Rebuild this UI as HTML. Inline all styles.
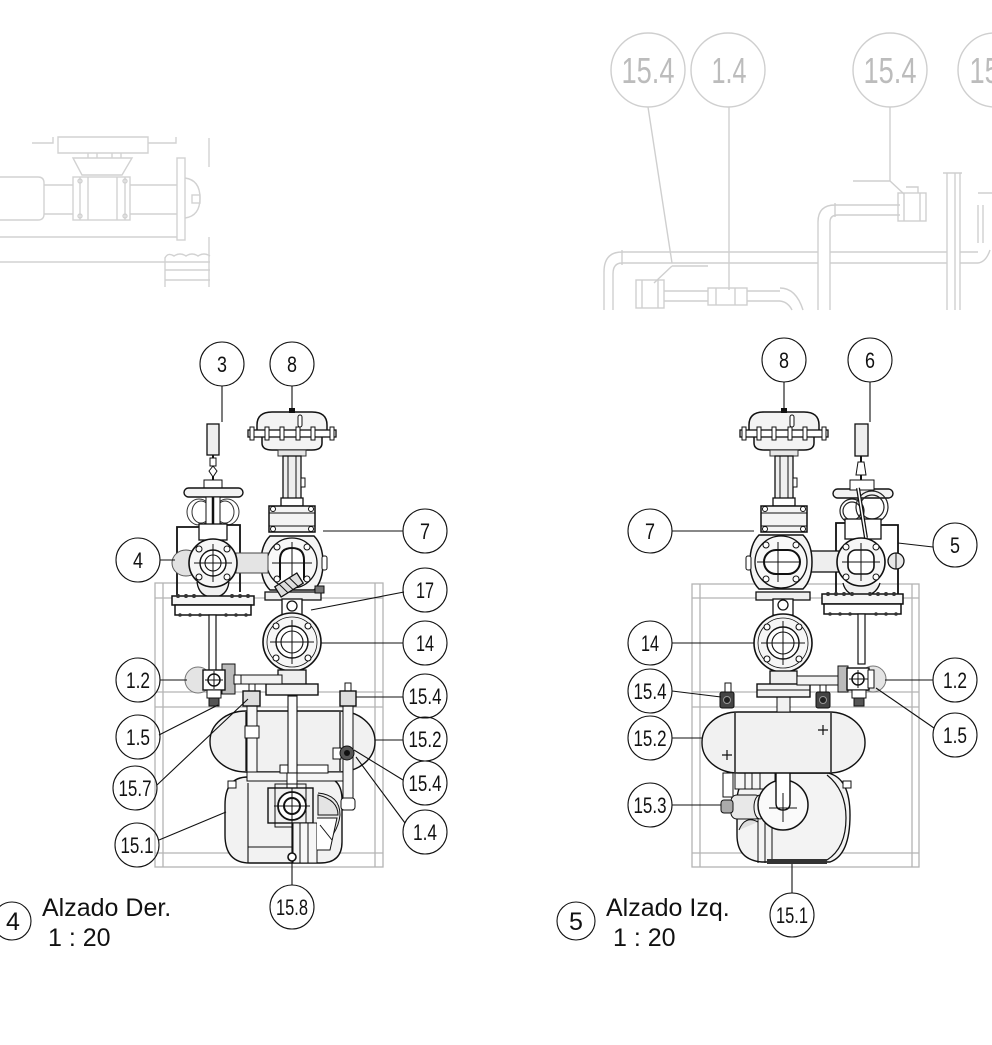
<!DOCTYPE html>
<html><head><meta charset="utf-8">
<style>
html,body{margin:0;padding:0;background:#fff;}
svg{display:block;}
.bt{font-family:"Liberation Sans Narrow","Liberation Sans",sans-serif;font-size:22px;fill:#111;text-anchor:middle}
.gt{font-family:"Liberation Sans Narrow","Liberation Sans",sans-serif;font-size:36px;fill:#bcbcbc;text-anchor:middle}
.title{font-family:"Liberation Sans",sans-serif;font-size:25px;fill:#111}
</style></head><body>
<svg width="992" height="1045" viewBox="0 0 992 1045" xmlns="http://www.w3.org/2000/svg">
<defs>
 <g id="v14">
  <circle r="29" fill="#f6f6f6" stroke="#111" stroke-width="1.6"/>
  <circle r="25" fill="none" stroke="#111" stroke-width="0.8"/>
  <circle r="16" fill="#fff" stroke="#111" stroke-width="1.4"/>
  <circle r="11" fill="none" stroke="#111" stroke-width="1.1"/>
  <path d="M-22,0H22M0,-22V22" stroke="#111" stroke-width="1"/>
  <g fill="#fff" stroke="#111" stroke-width="1.1"><circle cx="-16" cy="-16" r="3"/><circle cx="16" cy="-16" r="3"/><circle cx="-16" cy="16" r="3"/><circle cx="16" cy="16" r="3"/></g>
 </g>
 <g id="act">
  <path d="M-35,20 V13 Q-35,0 -20,0 H20 Q35,0 35,13 V20 Z" fill="#f3f3f3" stroke="#111" stroke-width="1.5"/>
  <path d="M-30,25 V31 Q-30,38 -20,38 H20 Q30,38 30,31 V25" fill="#f3f3f3" stroke="#111" stroke-width="1.5"/>
  <rect x="-44" y="18" width="88" height="7" fill="#fff" stroke="#111" stroke-width="1.3"/>
  <g fill="#fff" stroke="#111" stroke-width="1">
   <rect x="-42" y="15" width="4" height="13"/><rect x="-27" y="15" width="4" height="13"/><rect x="-12" y="15" width="4" height="13"/><rect x="4" y="15" width="4" height="13"/><rect x="19" y="15" width="4" height="13"/><rect x="38" y="15" width="4" height="13"/>
  </g>
  <rect x="-3" y="-4" width="6" height="5" fill="#111"/>
  <rect x="6" y="3" width="4" height="12" rx="2" fill="#fff" stroke="#111"/>
  <rect x="-14" y="38" width="28" height="6" fill="#e6e6e6" stroke="#333"/>
  <rect x="-9" y="44" width="18" height="44" fill="#eee" stroke="#111" stroke-width="1.3"/>
  <path d="M-4,44V88M4,44V88" stroke="#111"/>
  <rect x="9" y="66" width="4" height="9" fill="#fff" stroke="#111"/>
  <rect x="-11" y="86" width="22" height="8" fill="#fff" stroke="#111" stroke-width="1.3"/>
  <rect x="-23" y="94" width="46" height="26" fill="#f3f3f3" stroke="#111" stroke-width="1.5"/>
  <path d="M-23,101H23M-23,114H23" stroke="#111"/>
  <g fill="#fff" stroke="#111"><circle cx="-19" cy="97" r="2.5"/><circle cx="19" cy="97" r="2.5"/><circle cx="-19" cy="117" r="2.5"/><circle cx="19" cy="117" r="2.5"/></g>
 </g>
</defs>

<!-- ============ GHOST TOP LEFT ============ -->
<g fill="none" stroke="#d2d2d2" stroke-width="1.4">
 <path d="M32,143 H53 V137 M58,137 H148 V153 H58 Z M148,143 H176 V137"/>
 <path d="M73,158 H132 L122,175 H82 Z"/>
 <path d="M88,153 V158 M97,153 V158 M112,153 V158 M121,153 V158"/>
 <path d="M0,177 H38 Q44,177 44,183 V214 Q44,220 38,220 H0"/>
 <path d="M44,185 H73 M44,214 H73"/>
 <rect x="73" y="177" width="57" height="43"/>
 <path d="M80,177 V220 M88,177 V220 M117,177 V220 M125,177 V220"/>
 <circle cx="80" cy="181" r="2"/><circle cx="125" cy="181" r="2"/><circle cx="80" cy="216" r="2"/><circle cx="125" cy="216" r="2"/>
 <path d="M130,185 H177 M130,214 H177"/>
 <rect x="177" y="158" width="8" height="82"/>
 <path d="M185,178 Q200,180 200,198 Q200,216 185,218"/>
 <rect x="192" y="195" width="8" height="8"/>
 <path d="M0,237 H177 M0,262 H210"/>
 <path d="M165,287 V258 Q168,252 174,256 Q180,252 186,256 Q192,252 198,256 Q204,252 210,256 M165,270 H210 M165,280 H210"/>
 <path d="M209,138 V167 M209,237 V287"/>
</g>

<!-- ============ GHOST TOP RIGHT ============ -->
<g fill="none" stroke="#cfcfcf" stroke-width="1.4">
 <circle cx="648" cy="70" r="37"/>
 <circle cx="728" cy="70" r="37"/>
 <circle cx="890" cy="70" r="37"/>
 <circle cx="995" cy="70" r="37"/>
 <path d="M648,107 L672,263 M672,266 H708 M672,266 L654,283"/>
 <path d="M729,107 V290"/>
 <path d="M890,107 V181 M853,181 H890 L904,194"/>
 <path d="M622,252 H818 M830,252 H947 M960,252 H978 M622,263 H818 M830,263 H947 M960,263 H978"/>
 <path d="M604,310 V272 Q604,252 622,252 M613,310 V274 Q613,263 622,263 M622,250 V265"/>
 <path d="M818,310 V222 Q818,205 835,205 H900 M830,310 V222 Q830,215 838,215 H900 M835,203 V217"/>
 <rect x="898" y="193" width="28" height="28"/>
 <path d="M904,193 V221 M920,193 V221 M906,187 H918 V193"/>
 <path d="M947,310 V173 M955,310 V173 M960,310 V173 M943,173 H962"/>
 <path d="M978,263 Q986,262 990,250 M978,193 H992 M978,205 V243 M983,205 V243"/>
 <rect x="636" y="280" width="28" height="28"/>
 <path d="M642,280 V308 M658,280 V308"/>
 <path d="M664,291 H708 M664,301 H708 M747,291 H780 M747,301 H780"/>
 <rect x="708" y="288" width="39" height="17"/>
 <path d="M716,288 V305 M735,288 V305"/>
 <path d="M780,288 Q796,288 803,310 M780,301 Q788,302 792,310"/>
</g>
<g class="gt">
 <text x="648" y="83" textLength="53" lengthAdjust="spacingAndGlyphs">15.4</text>
 <text x="729" y="83" textLength="35" lengthAdjust="spacingAndGlyphs">1.4</text>
 <text x="890" y="83" textLength="53" lengthAdjust="spacingAndGlyphs">15.4</text>
 <text x="996" y="83" textLength="53" lengthAdjust="spacingAndGlyphs">15.4</text>
</g>

<!-- ============ LEFT VIEW (Alzado Der.) ============ -->
<g fill="none" stroke="#b4b4b4" stroke-width="1.3">
 <rect x="155" y="583" width="228" height="284"/>
 <path d="M163,583 V867 M375,583 V867 M155,598 H383 M155,692 H383 M155,707 H383 M155,853 H383"/>
</g>

<!-- lower tank 15.1 -->
<path d="M248,777 H322 Q342,777 342,800 V842 Q342,863 320,863 H250 Q225,863 225,835 V805 Q225,777 248,777 Z" fill="#f2f2f2" stroke="#111" stroke-width="1.4"/>
<path d="M248,783 V863 M248,847 H300" stroke="#111" stroke-width="1.1"/>
<path d="M318,793 Q340,795 340,815 Q338,835 318,850" fill="#e9e9e9" stroke="#111"/>
<rect x="228" y="781" width="8" height="7" fill="#fff" stroke="#111"/>
<!-- tank 15.2 -->
<rect x="210" y="711" width="165" height="61" rx="36" ry="30" fill="#f1f1f1" stroke="#111" stroke-width="1.4"/>
<path d="M246,712 V771 M340,712 V771" stroke="#111" stroke-width="1.3"/>
<!-- pipes around tank -->
<rect x="247" y="705" width="10" height="73" fill="#f7f7f7" stroke="#111"/>
<rect x="245" y="726" width="14" height="12" fill="#fff" stroke="#111"/>
<rect x="249" y="684" width="6" height="8" fill="#fff" stroke="#111"/>
<rect x="243" y="691" width="17" height="15" fill="#ddd" stroke="#111" stroke-width="1.4"/>
<rect x="247" y="772" width="101" height="9" fill="#f5f5f5" stroke="#111"/>
<rect x="280" y="765" width="48" height="8" fill="#fff" stroke="#111"/>
<rect x="288" y="696" width="9" height="77" fill="#fbfbfb" stroke="#111" stroke-width="1.1"/>
<rect x="343" y="705" width="10" height="105" fill="#f7f7f7" stroke="#111"/>
<rect x="345" y="683" width="6" height="9" fill="#fff" stroke="#111"/>
<rect x="340" y="691" width="16" height="15" fill="#ddd" stroke="#111" stroke-width="1.4"/>
<rect x="341" y="798" width="14" height="12" rx="3" fill="#fff" stroke="#111"/>
<rect x="333" y="748" width="8" height="11" fill="#fff" stroke="#111"/>
<circle cx="347" cy="753" r="7" fill="#555" stroke="#111"/>
<circle cx="347" cy="753" r="3" fill="#111"/>
<!-- lower valve in 15.1 -->
<path d="M318,795 Q338,800 338,815 H318 Z" fill="#e4e4e4" stroke="#111"/>
<rect x="287" y="773" width="10" height="16" fill="#fff" stroke="#111"/>
<rect x="268" y="788" width="45" height="35" fill="#f0f0f0" stroke="#111" stroke-width="1.4"/>
<rect x="275" y="784" width="31" height="43" fill="none" stroke="#111"/>
<circle cx="292" cy="806" r="14" fill="#fff" stroke="#111" stroke-width="1.8"/>
<circle cx="292" cy="806" r="8" fill="none" stroke="#111" stroke-width="2"/>
<path d="M274,806 H310 M292,788 V824" stroke="#111"/>
<rect x="293" y="823" width="24" height="40" fill="#f6f6f6" stroke="#111"/>
<path d="M300,823 V863 M308,823 V863" stroke="#111"/>
<path d="M317,818 H337 L330,850 H317" fill="#fff" stroke="#111"/>
<path d="M320,825 L332,840" stroke="#111"/>
<line x1="292" y1="824" x2="292" y2="860" stroke="#111" stroke-width="1.2"/>
<circle cx="292" cy="857" r="4" fill="#fff" stroke="#111" stroke-width="1.6"/>

<!-- actuator + bonnet 8/7 -->
<use href="#act" x="292" y="412"/>
<!-- valve 7 body -->
<g transform="translate(292,563)">
 <path d="M-22,-27 Q-31,-18 -31,0 Q-31,18 -22,27 H22 Q31,18 31,0 Q31,-18 22,-27 Z" fill="#f4f4f4" stroke="#111" stroke-width="1.5"/>
 <circle r="25" fill="#f8f8f8" stroke="#111" stroke-width="1.3"/>
 <path d="M-12,17 V-3 Q-12,-15 0,-15 Q12,-15 12,-3 V17" fill="#fff" stroke="#111" stroke-width="2"/>
 <path d="M-20,0 H20 M0,-21 V21" stroke="#111"/>
 <g fill="#fff" stroke="#111"><circle cx="-15" cy="-16" r="3"/><circle cx="15" cy="-16" r="3"/><circle cx="-15" cy="16" r="3"/><circle cx="15" cy="16" r="3"/></g>
 <rect x="30" y="-7" width="5" height="14" rx="2" fill="#fff" stroke="#111"/>
</g>
<!-- 17 strainer -->
<rect x="265" y="592" width="56" height="8" fill="#eee" stroke="#111" stroke-width="1.3"/>
<rect x="315" y="586" width="9" height="7" fill="#777" stroke="#111"/>
<g transform="translate(289,585) rotate(-32)">
 <rect x="-13" y="-6" width="26" height="12" fill="#ddd" stroke="#111" stroke-width="1.3"/>
 <path d="M-8,-6 L-5,6 M-2,-6 L1,6 M4,-6 L7,6" stroke="#111"/>
</g>
<rect x="282" y="599" width="20" height="16" fill="#fff" stroke="#111" stroke-width="1.3"/>
<circle cx="292" cy="606" r="5" fill="#fff" stroke="#111" stroke-width="1.3"/>
<!-- valve 14 -->
<use href="#v14" x="292" y="642"/>
<rect x="278" y="670" width="28" height="15" fill="#eee" stroke="#111" stroke-width="1.3"/>
<rect x="266" y="684" width="52" height="11" fill="#f2f2f2" stroke="#111" stroke-width="1.4"/>

<!-- left valve (3/4) -->
<rect x="207" y="424" width="12" height="31" fill="#eee" stroke="#111" stroke-width="1.3"/>
<line x1="213" y1="455" x2="213" y2="482" stroke="#111" stroke-width="2"/>
<rect x="210" y="458" width="6" height="8" fill="#fff" stroke="#111"/>
<path d="M209,471 L213,466 L217,471 L213,477 Z" fill="#fff" stroke="#111"/>
<rect x="204" y="480" width="18" height="9" fill="#fff" stroke="#111"/>
<rect x="184" y="488" width="59" height="9" rx="4.5" fill="#f3f3f3" stroke="#111" stroke-width="1.4"/>
<g fill="none" stroke="#333" stroke-width="1">
 <ellipse cx="199" cy="512" rx="12" ry="13"/><ellipse cx="201" cy="512" rx="9" ry="11"/>
 <ellipse cx="227" cy="512" rx="12" ry="13"/><ellipse cx="225" cy="512" rx="9" ry="11"/>
</g>
<rect x="206" y="497" width="14" height="30" fill="#fff" stroke="#111"/>
<line x1="213" y1="497" x2="213" y2="540" stroke="#111" stroke-width="2.5"/>
<path d="M199,527 H177 V598" fill="none" stroke="#111" stroke-width="1.8"/>
<path d="M227,525 H240 V592" fill="none" stroke="#111" stroke-width="1.8"/>
<ellipse cx="186" cy="563" rx="14" ry="13" fill="#e2e2e2" stroke="#555"/>
<rect x="236" y="553" width="32" height="20" fill="#e4e4e4" stroke="#444"/>
<rect x="199" y="524" width="28" height="16" fill="#fff" stroke="#111" stroke-width="1.3"/>
<path d="M197,582 Q199,597 213,597 Q227,597 229,582" fill="#f0f0f0" stroke="#111" stroke-width="1.3"/>
<g transform="translate(213,563)">
 <circle r="24" fill="#f6f6f6" stroke="#111" stroke-width="1.6"/>
 <circle r="13" fill="#fff" stroke="#111" stroke-width="1.4"/>
 <circle r="8" fill="none" stroke="#111" stroke-width="1.1"/>
 <path d="M-19,0 H19 M0,-19 V19" stroke="#111"/>
 <g fill="#fff" stroke="#111"><circle cx="-14" cy="-14" r="3"/><circle cx="14" cy="-14" r="3"/><circle cx="-14" cy="14" r="3"/><circle cx="14" cy="14" r="3"/></g>
</g>
<rect x="172" y="596" width="82" height="9" fill="#f5f5f5" stroke="#111" stroke-width="1.5"/>
<rect x="175" y="605" width="76" height="10" fill="#fff" stroke="#111" stroke-width="1.5"/>
<g fill="#333"><circle cx="178" cy="596" r="2"/><circle cx="186" cy="596" r="2"/><circle cx="194" cy="596" r="2"/><circle cx="232" cy="596" r="2"/><circle cx="240" cy="596" r="2"/><circle cx="248" cy="596" r="2"/><circle cx="180" cy="615" r="1.8"/><circle cx="190" cy="615" r="1.8"/><circle cx="200" cy="615" r="1.8"/><circle cx="226" cy="615" r="1.8"/><circle cx="236" cy="615" r="1.8"/><circle cx="246" cy="615" r="1.8"/></g>
<rect x="209" y="615" width="7" height="56" fill="#fff" stroke="#111" stroke-width="1.2"/>
<!-- 1.2 left -->
<circle cx="198" cy="680" r="13" fill="#e4e4e4" stroke="#777"/>
<rect x="240" y="675" width="42" height="9" fill="#f2f2f2" stroke="#111"/>
<rect x="222" y="664" width="13" height="30" fill="#bbb" stroke="#111"/>
<rect x="203" y="670" width="22" height="20" fill="#fff" stroke="#111" stroke-width="1.4"/>
<circle cx="214" cy="680" r="6" fill="none" stroke="#111" stroke-width="1.5"/>
<path d="M205,680 H223 M214,671 V689" stroke="#111"/>
<rect x="234" y="675" width="7" height="9" fill="#fff" stroke="#111"/>
<rect x="207" y="690" width="14" height="8" fill="#fff" stroke="#111"/>
<rect x="209" y="698" width="10" height="8" fill="#555" stroke="#111"/>

<!-- left balloons & leaders -->
<g fill="none" stroke="#111" stroke-width="1.1">
 <path d="M222,386 V422 M292,386 V409 M403,531 H323 M160,560 H175 M404,592 L311,610 M403,643 H321 M160,680 H187 M403,697 H356 M403,740 H375 M403,780 L354,750 M405,823 L356,757 M159,735 L218,705 M157,785 L248,699 M159,840 L226,812 M292,885 V861"/>
 <circle cx="222" cy="364" r="22"/><circle cx="292" cy="364" r="22"/><circle cx="425" cy="531" r="22"/><circle cx="138" cy="560" r="22"/>
 <circle cx="425" cy="590" r="22"/><circle cx="425" cy="643" r="22"/><circle cx="138" cy="680" r="22"/><circle cx="425" cy="696" r="22"/>
 <circle cx="138" cy="737" r="22"/><circle cx="425" cy="739" r="22"/><circle cx="135" cy="788" r="22"/><circle cx="425" cy="783" r="22"/>
 <circle cx="137" cy="845" r="22"/><circle cx="425" cy="832" r="22"/><circle cx="292" cy="907" r="22"/>
</g>
<g class="bt">
 <text x="222" y="372" textLength="10" lengthAdjust="spacingAndGlyphs">3</text>
 <text x="292" y="372" textLength="10" lengthAdjust="spacingAndGlyphs">8</text>
 <text x="425" y="539" textLength="10" lengthAdjust="spacingAndGlyphs">7</text>
 <text x="138" y="568" textLength="10" lengthAdjust="spacingAndGlyphs">4</text>
 <text x="425" y="598" textLength="18" lengthAdjust="spacingAndGlyphs">17</text>
 <text x="425" y="651" textLength="18" lengthAdjust="spacingAndGlyphs">14</text>
 <text x="138" y="688" textLength="24" lengthAdjust="spacingAndGlyphs">1.2</text>
 <text x="425" y="704" textLength="33" lengthAdjust="spacingAndGlyphs">15.4</text>
 <text x="138" y="745" textLength="24" lengthAdjust="spacingAndGlyphs">1.5</text>
 <text x="425" y="747" textLength="33" lengthAdjust="spacingAndGlyphs">15.2</text>
 <text x="135" y="796" textLength="33" lengthAdjust="spacingAndGlyphs">15.7</text>
 <text x="425" y="791" textLength="33" lengthAdjust="spacingAndGlyphs">15.4</text>
 <text x="137" y="853" textLength="33" lengthAdjust="spacingAndGlyphs">15.1</text>
 <text x="425" y="840" textLength="24" lengthAdjust="spacingAndGlyphs">1.4</text>
 <text x="292" y="915" textLength="32" lengthAdjust="spacingAndGlyphs">15.8</text>
</g>

<!-- ============ RIGHT VIEW (Alzado Izq.) ============ -->
<g fill="none" stroke="#b4b4b4" stroke-width="1.3">
 <rect x="692" y="584" width="227" height="283"/>
 <path d="M700,584 V867 M912,584 V867 M692,598 H919 M692,692 H919 M692,707 H919 M692,853 H919"/>
</g>
<!-- lower tank 15.1 right -->
<path d="M758,773 H828 Q850,778 850,815 Q850,855 830,862 H762 Q737,860 737,835 V800 Q737,780 758,773 Z" fill="#f3f3f3" stroke="#111" stroke-width="1.4"/>
<path d="M827,775 Q846,790 846,818 Q846,848 827,860" fill="none" stroke="#111" stroke-width="1.2"/>
<path d="M758,800 V863 M765,820 V863 M772,820 V863" stroke="#111"/>
<rect x="767" y="859" width="60" height="5" fill="#333"/>
<rect x="843" y="781" width="8" height="7" fill="#fff" stroke="#111"/>
<path d="M739,830 Q745,815 758,822" fill="#ddd" stroke="#111"/>
<rect x="723" y="773" width="10" height="24" fill="#fff" stroke="#111"/>
<rect x="735" y="773" width="40" height="16" fill="#f6f6f6" stroke="#111"/>
<path d="M745,773 V789 M752,773 V789 M760,773 V789" stroke="#111"/>
<rect x="731" y="795" width="30" height="24" rx="6" fill="#e8e8e8" stroke="#111"/>
<ellipse cx="760" cy="807" rx="6" ry="12" fill="#f5f5f5" stroke="#111"/>
<rect x="721" y="800" width="12" height="13" rx="3" fill="#aaa" stroke="#111"/>
<circle cx="783" cy="805" r="25" fill="#fafafa" stroke="#111" stroke-width="1.5"/>
<path d="M776,772 V803 Q776,810 783,810 Q790,810 790,803 V772" fill="#fff" stroke="#111" stroke-width="1.4"/>
<path d="M769,808 H797 M783,793 V822" stroke="#111"/>
<!-- tank 15.2 right -->
<rect x="702" y="712" width="163" height="61" rx="36" ry="30" fill="#f1f1f1" stroke="#111" stroke-width="1.4"/>
<path d="M735,713 V772 M831,713 V772" stroke="#111" stroke-width="1.4"/>
<path d="M722,755 H732 M727,750 V760 M818,730 H828 M823,725 V735" stroke="#111" stroke-width="1.2"/>
<rect x="777" y="697" width="13" height="15" fill="#f1f1f1" stroke="#111"/>
<rect x="725" y="683" width="6" height="10" fill="#fff" stroke="#111"/>
<rect x="720" y="692" width="14" height="16" rx="2" fill="#444" stroke="#111"/>
<circle cx="727" cy="700" r="3.5" fill="#222" stroke="#999"/>
<rect x="820" y="683" width="6" height="10" fill="#fff" stroke="#111"/>
<rect x="816" y="692" width="14" height="16" rx="2" fill="#444" stroke="#111"/>
<circle cx="823" cy="700" r="3.5" fill="#222" stroke="#999"/>

<use href="#act" x="784" y="412"/>
<!-- valve 5 right side -->
<rect x="855" y="424" width="13" height="32" fill="#eee" stroke="#111" stroke-width="1.3"/>
<line x1="861" y1="456" x2="861" y2="488" stroke="#111" stroke-width="2"/>
<path d="M858,462 L864,462 L866,475 L856,475 Z" fill="#fff" stroke="#111"/>
<rect x="833" y="489" width="60" height="9" rx="4.5" fill="#f3f3f3" stroke="#111" stroke-width="1.4"/>
<rect x="850" y="480" width="24" height="10" fill="#fff" stroke="#111"/>
<g fill="none" stroke="#222" stroke-width="1.2">
 <circle cx="872" cy="507" r="16"/><circle cx="872" cy="507" r="12"/>
 <circle cx="852" cy="511" r="12"/><circle cx="852" cy="511" r="9"/>
</g>
<path d="M836,598 V523 H848 M898,608 V525 H880" fill="none" stroke="#111" stroke-width="1.8"/>
<rect x="845" y="519" width="36" height="20" fill="#fff" stroke="#111" stroke-width="1.3"/>
<path d="M858,488 L866,538" stroke="#111" stroke-width="4"/>
<path d="M858,488 L866,538" stroke="#fff" stroke-width="1.5"/>
<rect x="796" y="551" width="52" height="21" fill="#eee" stroke="#111" stroke-width="1.3"/>
<path d="M843,583 Q846,596 861,596 Q876,596 880,583" fill="#f0f0f0" stroke="#111" stroke-width="1.3"/>
<g transform="translate(861,562)">
 <circle r="24" fill="#f6f6f6" stroke="#111" stroke-width="1.6"/>
 <rect x="-13" y="-12" width="26" height="24" rx="8" fill="#fff" stroke="#111" stroke-width="1.6"/>
 <path d="M-19,0 H19 M0,-19 V19" stroke="#111"/>
 <g fill="#fff" stroke="#111"><circle cx="-15" cy="-15" r="3"/><circle cx="15" cy="-15" r="3"/><circle cx="-15" cy="15" r="3"/><circle cx="15" cy="15" r="3"/></g>
</g>
<circle cx="896" cy="561" r="8" fill="#e8e8e8" stroke="#111" stroke-width="1.3"/>
<path d="M896,553 V569" stroke="#111"/>
<rect x="822" y="594" width="81" height="10" fill="#f5f5f5" stroke="#111" stroke-width="1.5"/>
<rect x="824" y="604" width="77" height="10" fill="#fff" stroke="#111" stroke-width="1.5"/>
<g fill="#333"><circle cx="828" cy="594" r="2"/><circle cx="836" cy="594" r="2"/><circle cx="844" cy="594" r="2"/><circle cx="852" cy="594" r="2"/><circle cx="870" cy="594" r="2"/><circle cx="878" cy="594" r="2"/><circle cx="886" cy="594" r="2"/><circle cx="894" cy="594" r="2"/><circle cx="830" cy="614" r="1.8"/><circle cx="840" cy="614" r="1.8"/><circle cx="850" cy="614" r="1.8"/><circle cx="876" cy="614" r="1.8"/><circle cx="886" cy="614" r="1.8"/><circle cx="896" cy="614" r="1.8"/></g>
<rect x="858" y="614" width="7" height="50" fill="#fff" stroke="#111" stroke-width="1.2"/>
<!-- valve 7 right -->
<g transform="translate(781,562)">
 <path d="M-22,-27 Q-31,-18 -31,0 Q-31,18 -22,27 H22 Q31,18 31,0 Q31,-18 22,-27 Z" fill="#f4f4f4" stroke="#111" stroke-width="1.5"/>
 <circle r="26" fill="#f8f8f8" stroke="#111" stroke-width="1.3"/>
 <rect x="-17" y="-12" width="36" height="24" rx="12" fill="#fff" stroke="#111" stroke-width="2"/>
 <path d="M-24,0 H20 M-3,-20 V20" stroke="#111"/>
 <g fill="#fff" stroke="#111"><circle cx="-15" cy="-17" r="3"/><circle cx="15" cy="-17" r="3"/><circle cx="-15" cy="17" r="3"/><circle cx="15" cy="17" r="3"/></g>
 <rect x="-35" y="-6" width="5" height="14" rx="2" fill="#fff" stroke="#111"/>
</g>
<rect x="756" y="592" width="54" height="8" fill="#eee" stroke="#111" stroke-width="1.3"/>
<rect x="773" y="599" width="20" height="16" fill="#fff" stroke="#111" stroke-width="1.3"/>
<circle cx="783" cy="605" r="5" fill="#fff" stroke="#111" stroke-width="1.3"/>
<use href="#v14" x="783" y="643"/>
<rect x="770" y="671" width="27" height="14" fill="#eee" stroke="#111" stroke-width="1.3"/>
<rect x="757" y="684" width="53" height="13" fill="#f2f2f2" stroke="#111" stroke-width="1.4"/>
<path d="M757,690 H810" stroke="#111"/>
<!-- 1.2 right -->
<rect x="797" y="676" width="46" height="9" fill="#f2f2f2" stroke="#111"/>
<circle cx="873" cy="679" r="13" fill="#e4e4e4" stroke="#777"/>
<rect x="838" y="666" width="10" height="26" fill="#bbb" stroke="#111"/>
<rect x="847" y="668" width="22" height="22" fill="#fff" stroke="#111" stroke-width="1.4"/>
<circle cx="858" cy="679" r="6" fill="none" stroke="#111" stroke-width="1.5"/>
<path d="M849,679 H868 M858,670 V688" stroke="#111"/>
<rect x="868" y="670" width="6" height="18" fill="#fff" stroke="#111"/>
<rect x="852" y="690" width="14" height="8" fill="#fff" stroke="#111"/>
<rect x="854" y="698" width="10" height="8" fill="#555" stroke="#111"/>

<!-- right balloons & leaders -->
<g fill="none" stroke="#111" stroke-width="1.1">
 <path d="M784,382 V409 M870,382 V422 M672,531 H754 M933,547 L898,543 M672,643 H754 M672,691 L721,697 M672,738 H703 M672,805 H721 M933,680 H885 M934,728 L876,688 M792,893 V864"/>
 <circle cx="784" cy="360" r="22"/><circle cx="870" cy="360" r="22"/><circle cx="650" cy="531" r="22"/><circle cx="955" cy="545" r="22"/>
 <circle cx="650" cy="643" r="22"/><circle cx="650" cy="691" r="22"/><circle cx="955" cy="680" r="22"/><circle cx="955" cy="735" r="22"/>
 <circle cx="650" cy="738" r="22"/><circle cx="650" cy="805" r="22"/><circle cx="792" cy="915" r="22"/>
</g>
<g class="bt">
 <text x="784" y="368" textLength="10" lengthAdjust="spacingAndGlyphs">8</text>
 <text x="870" y="368" textLength="10" lengthAdjust="spacingAndGlyphs">6</text>
 <text x="650" y="539" textLength="10" lengthAdjust="spacingAndGlyphs">7</text>
 <text x="955" y="553" textLength="10" lengthAdjust="spacingAndGlyphs">5</text>
 <text x="650" y="651" textLength="18" lengthAdjust="spacingAndGlyphs">14</text>
 <text x="650" y="699" textLength="33" lengthAdjust="spacingAndGlyphs">15.4</text>
 <text x="955" y="688" textLength="24" lengthAdjust="spacingAndGlyphs">1.2</text>
 <text x="955" y="743" textLength="24" lengthAdjust="spacingAndGlyphs">1.5</text>
 <text x="650" y="746" textLength="33" lengthAdjust="spacingAndGlyphs">15.2</text>
 <text x="650" y="813" textLength="33" lengthAdjust="spacingAndGlyphs">15.3</text>
 <text x="792" y="923" textLength="32" lengthAdjust="spacingAndGlyphs">15.1</text>
</g>

<!-- ============ TITLES ============ -->
<circle cx="12" cy="921" r="19" fill="none" stroke="#111" stroke-width="1.1"/>
<text x="13" y="930" class="title" text-anchor="middle">4</text>
<text x="42" y="916" class="title">Alzado Der.</text>
<text x="48" y="946" class="title">1 : 20</text>
<circle cx="576" cy="921" r="19" fill="none" stroke="#111" stroke-width="1.1"/>
<text x="576" y="930" class="title" text-anchor="middle">5</text>
<text x="606" y="916" class="title">Alzado Izq.</text>
<text x="613" y="946" class="title">1 : 20</text>
</svg>
</body></html>
